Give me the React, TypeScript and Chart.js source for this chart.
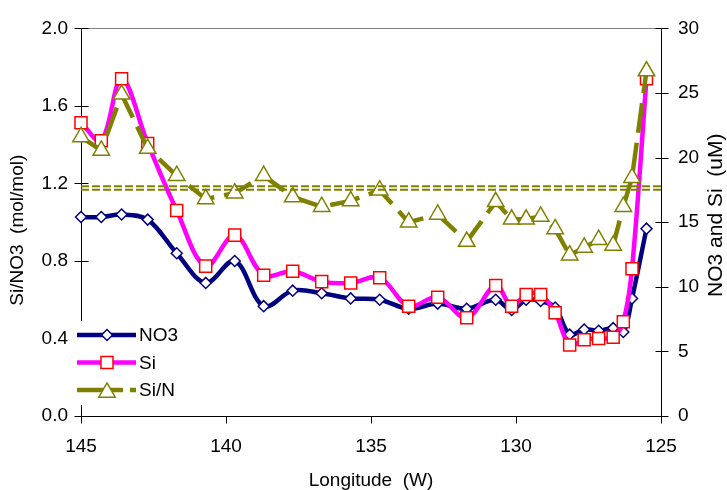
import React, { useEffect, useRef } from 'react';
import { Chart, registerables } from 'chart.js';

Chart.register(...registerables);

// Longitude (degrees W) of each station
const longitude = [145.0, 144.3, 143.6, 142.7, 141.7, 140.7, 139.7, 138.7, 137.7, 136.7, 135.7, 134.7, 133.7, 132.7, 131.7, 130.7, 130.15, 129.65, 129.15, 128.65, 128.15, 127.65, 127.15, 126.65, 126.3, 126.0, 125.5];
// NO3 (uM), right axis
const no3 = [15.4, 15.4, 15.6, 15.2, 12.6, 10.3, 12.0, 8.5, 9.7, 9.5, 9.1, 9.0, 8.3, 8.7, 8.3, 9.0, 8.2, 9.0, 8.9, 8.4, 6.3, 6.7, 6.6, 6.8, 6.5, 9.1, 14.5];
// Si (uM), right axis
const si = [22.7, 21.3, 26.1, 21.1, 15.9, 11.6, 14.0, 10.9, 11.2, 10.4, 10.3, 10.7, 8.5, 9.2, 7.6, 10.1, 8.5, 9.4, 9.4, 8.0, 5.5, 5.9, 6.0, 6.1, 7.3, 11.4, 26.1];
// Si/N (mol/mol), left axis
const siN = [1.44, 1.37, 1.66, 1.38, 1.24, 1.12, 1.15, 1.24, 1.13, 1.08, 1.11, 1.165, 1.0, 1.04, 0.9, 1.105, 1.015, 1.015, 1.03, 0.965, 0.83, 0.87, 0.91, 0.88, 1.08, 1.23, 1.78];
// Reference Si/N levels (horizontal dashed lines)
const refLevels = [1.185, 1.168];
const refSpan = [145, 125];

const FONT = "'Liberation Sans', Arial, sans-serif";
const OLIVE = '#808000';
const NAVY = '#000080';
const MAGENTA = '#FF00FF';

const seriesLabels = ['NO3', 'Si', 'Si/N'];

const overlayPlugin = {
  id: 'overlay',
  beforeDatasetsDraw(chart: any) {
    const { ctx, chartArea } = chart;
    const { left, right, top, bottom } = chartArea;
    const sx = chart.scales.x;
    const sy = chart.scales.y;
    const sy1 = chart.scales.y1;
    ctx.save();
    ctx.lineWidth = 1;
    // top border
    ctx.strokeStyle = '#808080';
    ctx.beginPath();
    ctx.moveTo(left, Math.round(top) + 0.5);
    ctx.lineTo(right, Math.round(top) + 0.5);
    ctx.stroke();
    ctx.strokeStyle = '#000';
    ctx.beginPath();
    const lx = Math.round(left) + 0.5;
    const rx = Math.round(right) + 0.5;
    const by = Math.round(bottom) + 0.5;
    ctx.moveTo(lx, top);
    ctx.lineTo(lx, bottom);
    ctx.moveTo(rx, top);
    ctx.lineTo(rx, bottom);
    ctx.moveTo(left, by);
    ctx.lineTo(right, by);
    sy.ticks.forEach((t: any) => {
      const y = Math.round(sy.getPixelForValue(t.value)) + 0.5;
      ctx.moveTo(lx - 7, y);
      ctx.lineTo(lx + 7, y);
    });
    sy1.ticks.forEach((t: any) => {
      const y = Math.round(sy1.getPixelForValue(t.value)) + 0.5;
      ctx.moveTo(rx - 6, y);
      ctx.lineTo(rx + 7, y);
    });
    sx.ticks.forEach((t: any) => {
      const x = Math.round(sx.getPixelForValue(t.value)) + 0.5;
      ctx.moveTo(x, by);
      ctx.lineTo(x, by + 7);
    });
    ctx.stroke();
    ctx.restore();
  },
  afterDraw(chart: any) {
    const { ctx, chartArea } = chart;
    const { left, top, bottom } = chartArea;
    ctx.save();
    // axis titles for y axes (rotated, reading bottom to top)
    ctx.fillStyle = '#000';
    ctx.textAlign = 'center';
    ctx.textBaseline = 'middle';
    const mid = (top + bottom) / 2;
    ctx.save();
    ctx.font = `19px ${FONT}`;
    ctx.translate(18, mid + 8);
    ctx.rotate(-Math.PI / 2);
    ctx.fillText('Si/NO3  (mol/mol)', 0, 0);
    ctx.restore();
    ctx.save();
    ctx.font = `21px ${FONT}`;
    ctx.translate(716, mid - 7);
    ctx.rotate(-Math.PI / 2);
    ctx.fillText('NO3 and Si  (uM)', 0, 0);
    ctx.restore();

    // legend
    ctx.fillStyle = '#fff';
    ctx.fillRect(left - 9, 321, 105, 84);
    const rows = [335, 362.5, 390];
    const ds = chart.data.datasets;
    const order = [4, 3, 2];
    order.forEach((di, i) => {
      const d = ds[di];
      const y = rows[i];
      ctx.save();
      ctx.strokeStyle = d.borderColor;
      ctx.lineWidth = d.borderWidth;
      ctx.setLineDash(d.borderDash && d.borderDash.length ? [46, 7] : []);
      ctx.beginPath();
      ctx.moveTo(77, y);
      ctx.lineTo(136, y);
      ctx.stroke();
      ctx.restore();
      drawMarker(ctx, d.pointStyle, 107, y, d.pointRadius, d.pointBorderColor, d.pointBorderWidth);
      ctx.fillStyle = '#000';
      ctx.textAlign = 'left';
      ctx.textBaseline = 'middle';
      ctx.font = `19px ${FONT}`;
      ctx.fillText(seriesLabels[i], 139, y + 1);
    });
    ctx.restore();
  },
};

function drawMarker(ctx: CanvasRenderingContext2D, style: string, x: number, y: number, r: number, color: string, bw: number) {
  ctx.save();
  ctx.beginPath();
  if (style === 'rect') {
    const s = Math.SQRT1_2 * r;
    ctx.rect(x - s, y - s, 2 * s, 2 * s);
  } else if (style === 'rectRot') {
    ctx.moveTo(x - r, y);
    ctx.lineTo(x, y - r);
    ctx.lineTo(x + r, y);
    ctx.lineTo(x, y + r);
    ctx.closePath();
  } else {
    const cy = y + r / 4;
    ctx.moveTo(x, cy - r);
    ctx.lineTo(x + r * Math.sqrt(3) / 2, cy + r / 2);
    ctx.lineTo(x - r * Math.sqrt(3) / 2, cy + r / 2);
    ctx.closePath();
  }
  ctx.fillStyle = '#fff';
  ctx.fill();
  ctx.strokeStyle = color;
  ctx.lineWidth = bw;
  ctx.stroke();
  ctx.restore();
}

export default function App() {
  const ref = useRef<HTMLCanvasElement>(null);
  useEffect(() => {
    if (!ref.current) return;
    const pts = (arr: number[]) => arr.map((v, i) => ({ x: longitude[i], y: v }));
    const chart = new Chart(ref.current, {
      type: 'line',
      data: {
        datasets: [
          ...refLevels.map((lv) => ({
            label: 'ref',
            data: refSpan.map((x) => ({ x, y: lv })),
            yAxisID: 'y',
            borderColor: OLIVE,
            borderWidth: 2,
            borderDash: [8, 3],
            pointRadius: 0,
            fill: false,
            clip: false as any,
          })),
          {
            label: 'Si/N',
            data: pts(siN),
            yAxisID: 'y',
            borderColor: OLIVE,
            borderWidth: 4.5,
            borderDash: [30, 10],
            tension: 0,
            pointStyle: 'triangle',
            pointRadius: 9.5,
            pointBackgroundColor: '#fff',
            pointBorderColor: OLIVE,
            pointBorderWidth: 1.5,
            fill: false,
            clip: false as any,
          },
          {
            label: 'Si',
            data: pts(si),
            yAxisID: 'y1',
            borderColor: MAGENTA,
            borderWidth: 4.5,
            tension: 0.35,
            pointStyle: 'rect',
            pointRadius: 8.5,
            pointBackgroundColor: '#fff',
            pointBorderColor: '#FF0000',
            pointBorderWidth: 1.5,
            fill: false,
            clip: false as any,
          },
          {
            label: 'NO3',
            data: pts(no3),
            yAxisID: 'y1',
            borderColor: NAVY,
            borderWidth: 4.5,
            tension: 0.35,
            pointStyle: 'rectRot',
            pointRadius: 5.5,
            pointBackgroundColor: '#fff',
            pointBorderColor: NAVY,
            pointBorderWidth: 1.5,
            fill: false,
            clip: false as any,
          },
        ],
      },
      options: {
        responsive: false,
        animation: false,
        events: [],
        layout: { padding: { top: 20, left: 0, right: 0, bottom: 0 } },
        plugins: { legend: { display: false }, tooltip: { enabled: false } },
        scales: {
          x: {
            type: 'linear',
            reverse: true,
            min: 125,
            max: 145,
            grid: { display: false, drawTicks: false },
            border: { display: false },
            ticks: { stepSize: 5, padding: 19, color: '#000', font: { family: FONT, size: 19 }, maxRotation: 0 },
            title: { display: true, text: 'Longitude  (W)', color: '#000', font: { family: FONT, size: 19 }, padding: { top: 0, bottom: -2 } },
            afterFit: (s: any) => { s.height = 74; },
          },
          y: {
            type: 'linear',
            position: 'left',
            min: 0,
            max: 2,
            grid: { display: false, drawTicks: false },
            border: { display: false },
            ticks: { stepSize: 0.4, padding: 13, color: '#000', font: { family: FONT, size: 19 }, callback: (v: any) => Number(v).toFixed(1) },
            afterFit: (s: any) => { s.width = 81; },
          },
          y1: {
            type: 'linear',
            position: 'right',
            min: 0,
            max: 30,
            grid: { display: false, drawTicks: false },
            border: { display: false },
            ticks: { stepSize: 5, padding: 17, color: '#000', font: { family: FONT, size: 19 } },
            afterFit: (s: any) => { s.width = 66; },
          },
        },
      },
      plugins: [overlayPlugin],
    } as any);
    return () => chart.destroy();
  }, []);
  return (
    <div style={{ position: 'absolute', left: 0, top: 0, width: 727, height: 490, background: '#fff' }}>
      <canvas ref={ref} width={727} height={490} style={{ width: 727, height: 490, display: 'block' }} />
    </div>
  );
}
